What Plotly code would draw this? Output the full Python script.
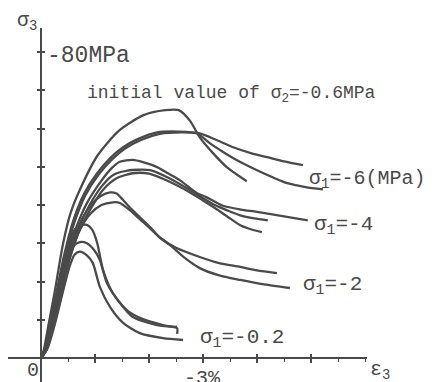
import plotly.graph_objects as go

W, H = 436, 382

# ---- data (strain in %, stress in MPa, both shown as magnitudes) ----
# sigma1 = -6 MPa group
A_strain = [0, 0.05, 0.13, 0.25, 0.41, 0.55, 0.72, 1.05, 1.45, 1.9, 2.3, 2.55, 2.76, 2.94, 3.19, 3.44, 3.81]
A_stress = [0, 2, 8, 17, 30, 38, 44, 53, 59.5, 63.5, 64.8, 64.8, 62, 57.7, 53.5, 49.9, 46.2]
B1_strain = [0, 0.06, 0.15, 0.27, 0.43, 0.6, 0.8, 1.04, 1.3, 1.52, 1.8, 2.15, 2.57, 2.94, 3.25, 3.56, 3.9, 4.19, 4.5, 4.85]
B1_stress = [0, 2, 8, 16, 27, 36, 43, 48.3, 52.5, 55.1, 57.3, 59, 59.2, 58.7, 57, 55.1, 53.5, 52.5, 51.4, 50.4]
B2_strain = [0, 0.07, 0.16, 0.28, 0.45, 0.62, 0.82, 1.06, 1.32, 1.55, 1.85, 2.2, 2.6, 2.89, 3.13, 3.38, 3.63, 4.0, 4.3, 4.56, 4.9, 5.22]
B2_stress = [0, 2, 8, 16, 27, 35.5, 42.5, 47.8, 52, 54.7, 57, 58.6, 59, 58.7, 56.1, 53.8, 51.7, 49.1, 47.2, 45.7, 44.7, 44.1]
# sigma1 = -4 MPa group
D1_strain = [0, 0.07, 0.17, 0.3, 0.47, 0.65, 0.85, 1.1, 1.3, 1.46, 1.7, 1.89, 2.15, 2.35, 2.57, 2.89, 3.07, 3.37, 3.7, 4.0, 4.5, 4.94]
D1_stress = [0, 2, 8, 16, 26, 34, 40.5, 46, 49.5, 51.3, 51.8, 51.2, 49.9, 48.3, 46.5, 43.1, 42, 39.8, 38.8, 38.2, 37, 36]
D2_strain = [0, 0.08, 0.18, 0.32, 0.5, 0.68, 0.9, 1.13, 1.33, 1.6, 2.02, 2.33, 2.76, 3.0, 3.22, 3.45, 3.69, 3.95, 4.2]
D2_stress = [0, 2, 8, 16, 26, 33.5, 40, 45, 47.8, 49, 49.1, 47.3, 43.9, 41.8, 40, 38.6, 37.3, 36.5, 36]
D3_strain = [0, 0.09, 0.2, 0.34, 0.52, 0.7, 0.92, 1.15, 1.4, 1.7, 2.0, 2.3, 2.76, 3.0, 3.22, 3.45, 3.69, 3.9, 4.09]
D3_stress = [0, 2, 8, 16, 25.5, 33, 39, 44, 47, 48.3, 48.2, 46.6, 43.3, 41.2, 39.2, 37, 34.7, 33.6, 32.9]
# sigma1 = -2 MPa group
C1_strain = [0, 0.09, 0.2, 0.35, 0.52, 0.7, 0.9, 1.1, 1.28, 1.4, 1.52, 1.67, 1.83, 2.02, 2.2, 2.5, 2.94, 3.3, 3.69, 4.0, 4.37]
C1_stress = [0, 2, 8, 17, 27, 34.5, 39.5, 42.3, 43.3, 43, 41.3, 39, 36.8, 34.2, 31.5, 28.8, 26.4, 24.8, 23.8, 22.9, 22.2]
C2_strain = [0, 0.1, 0.22, 0.37, 0.54, 0.72, 0.92, 1.12, 1.33, 1.45, 1.65, 1.83, 2.02, 2.2, 2.39, 2.65, 2.94, 3.3, 3.69, 4.1, 4.61]
C2_stress = [0, 2, 8, 17, 26.5, 33.5, 37.8, 40, 40.7, 40.6, 38.6, 36.3, 33.9, 31.5, 29.5, 26.3, 23.5, 21.6, 20.4, 19.3, 18.3]
# sigma1 = -0.2 MPa group
E1_strain = [0, 0.1, 0.22, 0.36, 0.48, 0.58, 0.7, 0.85, 0.95, 1.04, 1.15, 1.33, 1.59, 1.83, 2.26, 2.52, 2.52]
E1_stress = [0, 2.5, 9, 18, 27, 32.5, 34.5, 34.8, 33.5, 30.1, 23.0, 17.0, 12.5, 10.5, 8.6, 7.8, 6.3]
E2_strain = [0, 0.11, 0.24, 0.38, 0.5, 0.6, 0.72, 0.85, 0.98, 1.09, 1.22, 1.46, 1.7, 2.15, 2.52]
E2_stress = [0, 2.5, 9, 17.5, 25, 29.3, 30.3, 30, 28.3, 25.6, 19.6, 14.4, 10.7, 8.6, 8.1]
E3_strain = [0, 0.12, 0.25, 0.4, 0.52, 0.62, 0.72, 0.85, 0.96, 1.09, 1.28, 1.52, 1.83, 2.26, 2.63]
E3_stress = [0, 2.5, 8.5, 17, 23.5, 27, 27.8, 26.8, 24.8, 18.6, 13.3, 9.2, 6.5, 5.2, 4.7]

curves = [
    (A_strain, A_stress), (B1_strain, B1_stress), (B2_strain, B2_stress),
    (D1_strain, D1_stress), (D2_strain, D2_stress), (D3_strain, D3_stress),
    (C1_strain, C1_stress), (C2_strain, C2_stress),
    (E1_strain, E1_stress), (E2_strain, E2_stress), (E3_strain, E3_stress),
]

x_major_ticks = [1, 2, 3, 4, 5]
x_minor_ticks = [0.5, 1.5, 2.5, 3.5, 4.5, 5.5, 6.0]
y_ticks = [10, 20, 30, 40, 50, 60, 70, 80]

INK = "#4a4a4a"
FONT = "Liberation Mono"

fig = go.Figure()
for xs, ys in curves:
    fig.add_trace(go.Scatter(x=xs, y=ys, mode="lines",
                             line=dict(color=INK, width=2.3, shape="spline", smoothing=0.7),
                             hoverinfo="skip", showlegend=False))
# helper trace for the overlay axes (inside ticks -> crossing ticks)
fig.add_trace(go.Scatter(x=[0], y=[0], xaxis="x2", yaxis="y2", mode="markers",
                         marker=dict(opacity=0), hoverinfo="skip", showlegend=False))

def px(x):
    return x / W

def py(y):
    return 1 - y / H

x_dom = [px(8), px(367)]
y_dom = [py(382), py(28)]
x_rng = [(8 - 41) / 54, (367 - 41) / 54]
y_rng = [(358 - 382) / 3.825, (358 - 28) / 3.825]

common_x = dict(domain=x_dom, range=x_rng, anchor="free", position=py(358),
                showgrid=False, zeroline=False, showticklabels=False,
                tickmode="array", tickvals=x_major_ticks, ticklen=4, tickwidth=1.5, tickcolor=INK,
                minor=dict(tickmode="array", tickvals=x_minor_ticks, ticklen=3, tickwidth=1.3, tickcolor=INK))
common_y = dict(domain=y_dom, range=y_rng, anchor="free", position=px(41),
                showgrid=False, zeroline=False, showticklabels=False,
                tickmode="array", tickvals=y_ticks, ticklen=3, tickwidth=1.5, tickcolor=INK)

fig.update_layout(
    width=W, height=H, margin=dict(l=0, r=0, t=0, b=0),
    paper_bgcolor="white", plot_bgcolor="white",
    xaxis=dict(**common_x, showline=True, linecolor=INK, linewidth=1.6, ticks="outside"),
    yaxis=dict(**common_y, showline=True, linecolor=INK, linewidth=1.6, ticks="outside"),
    xaxis2=dict(**common_x, overlaying="x", matches="x", showline=False, ticks="inside"),
    yaxis2=dict(**common_y, overlaying="y", matches="y", showline=False, ticks="inside"),
)

def label(text, x, y, size, xanchor="left", yanchor="middle"):
    fig.add_annotation(text=text, x=px(x), y=py(y), xref="paper", yref="paper",
                       xanchor=xanchor, yanchor=yanchor, showarrow=False,
                       font=dict(family=FONT, size=size, color=INK))

label("σ<sub>3</sub>", 15, 21, 20)
label("-80MPa", 45, 56, 23)
label("initial value of σ<sub>2</sub>=-0.6MPa", 85, 95, 18)
label("σ<sub>1</sub>=-6(MPa)", 307, 180, 20)
label("σ<sub>1</sub>=-4", 312, 225, 21)
label("σ<sub>1</sub>=-2", 301, 285, 21)
label("σ<sub>1</sub>=-0.2", 198, 338, 21)
label("0", 33, 370, 20, xanchor="center")
label("-3%", 202, 365, 20, xanchor="center", yanchor="top")
label("ε<sub>3</sub>", 368, 370, 20)

fig.write_html("out.html", config={"displayModeBar": False},
               post_script="document.body.style.margin='0px';document.body.style.overflow='hidden';")
